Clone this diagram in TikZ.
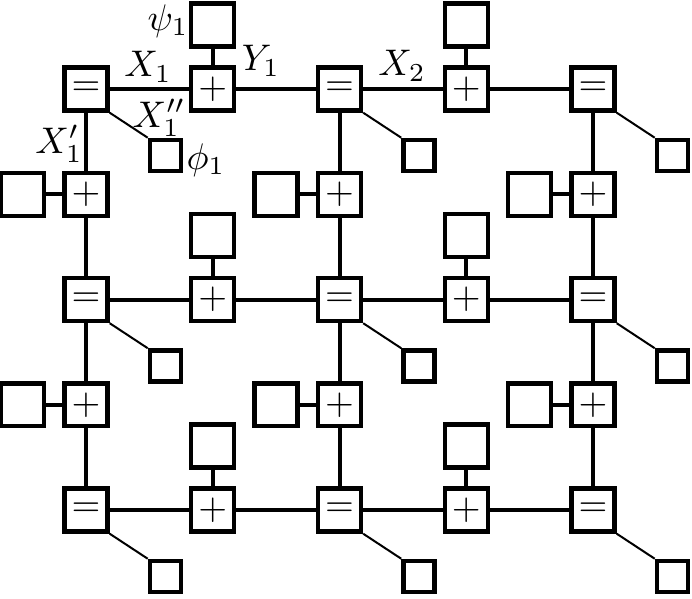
\documentclass[tikz,border=0pt]{standalone}
\begin{document}
\begin{tikzpicture}[x=0.27pt,y=-0.27pt,
  fbox/.style={draw,line width=1.2pt,minimum size=11.6pt,inner sep=0pt},
  sbox/.style={draw,line width=1.2pt,minimum size=8.4pt,inner sep=0pt},
  edge/.style={line width=1.08pt},
  diag/.style={line width=0.54pt},
  lbl/.style={inner sep=0pt}]
\useasboundingbox (0,0) rectangle (692,598);
% even rows: = and + nodes
\foreach \r in {0,2,4} {
  \foreach \c in {0,2,4} {
    \node[fbox] (n\r\c) at ({86+\c*126.75},{89+\r*105.25}) {$=$};
    \node[sbox] (d\r\c) at ({86+\c*126.75+79.5},{89+\r*105.25+66.5}) {};
    \draw[diag] (n\r\c.south east) -- (d\r\c.north west);
  }
  \foreach \c in {1,3} {
    \node[fbox] (n\r\c) at ({86+\c*126.75},{89+\r*105.25}) {$+$};
    \node[fbox] (t\r\c) at ({86+\c*126.75},{89+\r*105.25-64}) {};
    \draw[edge] (t\r\c) -- (n\r\c);
  }
  \draw[edge] (n\r0) -- (n\r1) -- (n\r2) -- (n\r3) -- (n\r4);
}
% odd rows: + nodes with left boxes
\foreach \r in {1,3} {
  \foreach \c in {0,2,4} {
    \node[fbox] (n\r\c) at ({86+\c*126.75},{89+\r*105.25}) {$+$};
    \node[fbox] (l\r\c) at ({86+\c*126.75-63.5},{89+\r*105.25}) {};
    \draw[edge] (l\r\c) -- (n\r\c);
  }
}
% vertical connectors
\foreach \c in {0,2,4} {
  \draw[edge] (n0\c) -- (n1\c) -- (n2\c) -- (n3\c) -- (n4\c);
}
% labels
\node[lbl] (psi) at (168,21) {$\psi_1$};
\node[lbl] (y1) at (261,61) {$Y_1$};
\node[lbl] (x1) at (148,67) {$X_1$};
\node[lbl] (x1pp) at (159,118) {$X_1''$};
\node[lbl] (x1p) at (59,144) {$X_1'$};
\node[lbl] (phi) at (206,160) {$\phi_1$};
\node[lbl] (x2) at (402,66) {$X_2$};
\end{tikzpicture}
\end{document}
